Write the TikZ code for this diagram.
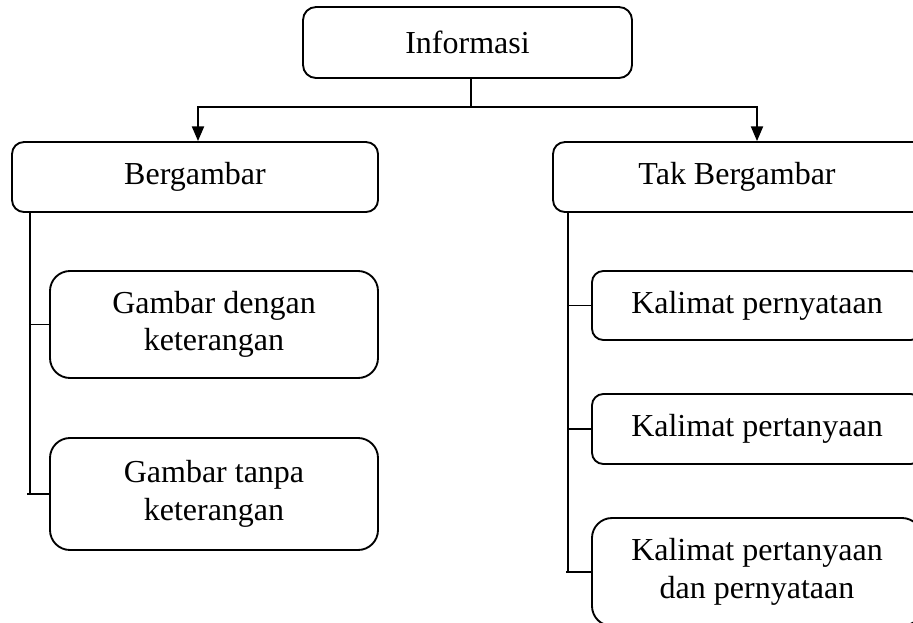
\documentclass[tikz,border=0pt]{standalone}
\usepackage{fontspec}
\setmainfont{Liberation Serif}
\usetikzlibrary{arrows.meta}
\begin{document}
\begin{tikzpicture}[x=0.75pt,y=-0.75pt,
  box/.style={draw,line width=1.4pt,rounded corners=#1,inner sep=0pt,align=center,
    font=\fontsize{24}{28}\selectfont},
  box/.default=9pt,
  sz/.style 2 args={minimum width={#1*0.75pt},minimum height={#2*0.75pt}},
  ln/.style={line width=1.4pt},
  arr/.style={ln,-{Triangle[length=11pt,width=9pt]}}]
\useasboundingbox (0,0) rectangle (913,622);
\clip (0,0) rectangle (913,622);

\node[box=9.75pt,sz={329}{71}] (info) at (467.5,42.5) {Informasi};
\node[box=9pt,sz={366}{70}] (berg) at (195,177) {Bergambar};
\node[box=9pt,sz={382}{70}] (tak) at (744,177) {Tak Bergambar\hspace*{10.5pt}};
\node[box=15pt,sz={328}{107}] (g1) at (214,324.5) {Gambar dengan\\keterangan};
\node[box=15pt,sz={328}{112}] (g2) at (214,494) {Gambar tanpa\\keterangan};
\node[box=8.5pt,sz={330}{69}] (k1) at (757,305.5) {Kalimat pernyataan};
\node[box=8.5pt,sz={330}{70}] (k2) at (757,429) {Kalimat pertanyaan};
\node[box=15pt,sz={330}{108}] (k3) at (757,572) {Kalimat pertanyaan\\dan pernyataan};

% top connectors
\coordinate (j) at ([xshift=2.6pt,yshift=-21pt]info.south);
\draw[ln] (info.south -| j) -- (j);
\draw[arr] (j) -| ([xshift=2.25pt]berg.north);
\draw[arr] (j) -| ([xshift=9.75pt]tak.north);

% left trunk
\coordinate (lt) at ([xshift=14.25pt]berg.south west);
\draw[ln] (lt) |- (g2.west);
\draw[ln] (lt |- g1.west) -- (g1.west);
\draw[ln] ([xshift=-2.25pt]lt |- g2.west) -- (g2.west);

% right trunk
\coordinate (rt) at ([xshift=12pt]tak.south west);
\draw[ln] (rt) |- (k3.west);
\draw[ln] (rt |- k1.west) -- (k1.west);
\draw[ln] (rt |- k2.west) -- (k2.west);
\draw[ln] ([xshift=-1.5pt]rt |- k3.west) -- (k3.west);
\end{tikzpicture}
\end{document}
